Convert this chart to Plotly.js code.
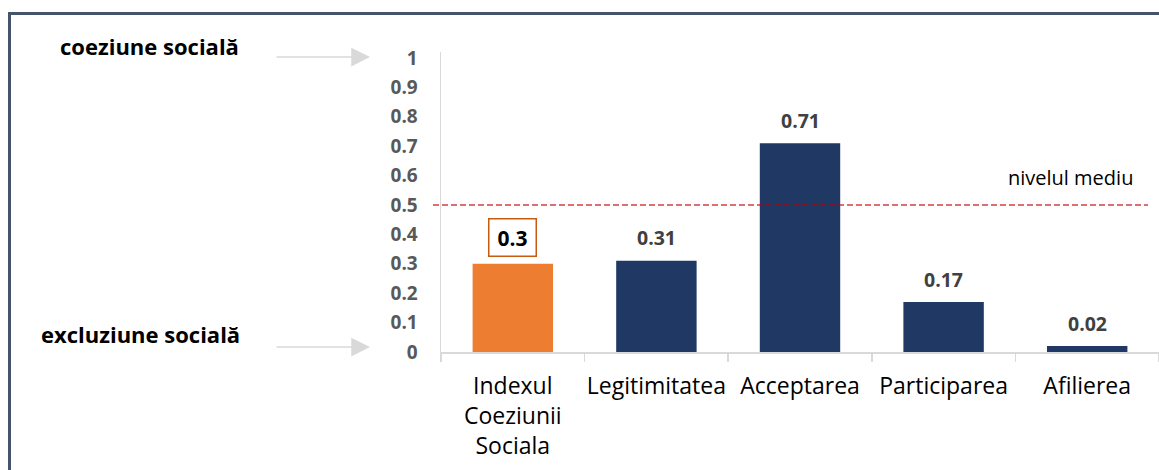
<!DOCTYPE html>
<html>
<head>
<meta charset="utf-8">
<script src="https://cdn.plot.ly/plotly-3.0.1.min.js"></script>
<style>
  html, body { margin: 0; padding: 0; background: #ffffff; }
  #chart { width: 1159px; height: 470px; }
</style>
</head>
<body>
<div id="chart"></div>
<script>
// ---- data ----
const categories = ["Indexul<br>Coeziunii<br>Sociala", "Legitimitatea", "Acceptarea", "Participarea", "Afilierea"];
const values = [0.3, 0.31, 0.71, 0.17, 0.02];
const barColors = ["#ED7D31", "#1F3864", "#1F3864", "#1F3864", "#1F3864"];
const averageLevel = 0.5;
const averageLabel = "nivelul mediu";
const topLabel = "coeziune socială";
const bottomLabel = "excluziune socială";
const highlightIndex = 0;

// ---- layout geometry ----
const W = 1159, H = 470;
const M = { l: 441, r: 0, t: 52, b: 118 };
const plotW = W - M.l - M.r;
const plotH = H - M.t - M.b;
const px2x = px => (px - M.l) / plotW;
const py2y = py => (H - M.b - py) / plotH;

const FONT = "'Open Sans', 'Noto Sans', sans-serif";

const trace = {
  type: "bar",
  x: categories,
  y: values,
  marker: { color: barColors, line: { width: 0 } },
  hoverinfo: "skip"
};

const annotations = [];
values.forEach((v, i) => {
  if (i === highlightIndex) {
    annotations.push({
      x: categories[i], y: v, xref: "x", yref: "y",
      text: "<b>" + v + "</b>", showarrow: false,
      yanchor: "middle", yshift: 26,
      font: { family: FONT, size: 21, color: "#000000" },
      bordercolor: "#C55A11", borderwidth: 1.5, borderpad: 1,
      width: 44, height: 34, bgcolor: "rgba(0,0,0,0)"
    });
  } else {
    annotations.push({
      x: categories[i], y: v, xref: "x", yref: "y",
      text: "<b>" + v + "</b>", showarrow: false,
      yanchor: "middle", yshift: 23,
      font: { family: FONT, size: 19.5, color: "#404040" }
    });
  }
});

// side labels
annotations.push({
  xref: "paper", yref: "paper", x: px2x(149), y: py2y(46),
  text: "<b>" + topLabel + "</b>", showarrow: false,
  xanchor: "center", yanchor: "middle",
  font: { family: FONT, size: 22, color: "#000000" }
});
annotations.push({
  xref: "paper", yref: "paper", x: px2x(140), y: py2y(334),
  text: "<b>" + bottomLabel + "</b>", showarrow: false,
  xanchor: "center", yanchor: "middle",
  font: { family: FONT, size: 22, color: "#000000" }
});
// arrows
[57, 347].forEach(py => {
  annotations.push({
    xref: "paper", yref: "paper", x: px2x(370), y: py2y(py),
    text: "", showarrow: true, ax: -95, ay: 0,
    arrowhead: 2, arrowsize: 2.5, arrowwidth: 1.5, arrowcolor: "#D9D9D9"
  });
});
// average label
annotations.push({
  xref: "paper", yref: "paper", x: px2x(1070), y: py2y(177),
  text: averageLabel, showarrow: false,
  xanchor: "center", yanchor: "middle",
  font: { family: FONT, size: 20, color: "#000000" }
});

const shapes = [
  // average dashed line
  {
    type: "line", xref: "paper", yref: "y",
    x0: px2x(433), x1: px2x(1148), y0: averageLevel, y1: averageLevel,
    line: { color: "rgba(192,0,0,0.75)", width: 1.5, dash: "6px,3px" },
    layer: "above"
  },
  // frame top
  {
    type: "line", xref: "paper", yref: "paper",
    x0: px2x(8), x1: px2x(1165), y0: py2y(13.5), y1: py2y(13.5),
    line: { color: "#44546A", width: 3 }
  },
  // frame left
  {
    type: "line", xref: "paper", yref: "paper",
    x0: px2x(9.5), x1: px2x(9.5), y0: py2y(12), y1: py2y(480),
    line: { color: "#44546A", width: 3 }
  }
];

const layout = {
  width: W, height: H,
  margin: M,
  paper_bgcolor: "#ffffff",
  plot_bgcolor: "#ffffff",
  showlegend: false,
  bargap: 0.44,
  font: { family: FONT, color: "#000000" },
  xaxis: {
    type: "category",
    showline: true, linecolor: "#D9D9D9", linewidth: 1.5,
    ticks: "outside", tickson: "boundaries", ticklen: 8, tickcolor: "#D9D9D9", tickwidth: 1.5,
    tickangle: 0, automargin: false, ticklabelstandoff: 13,
    tickfont: { family: FONT, size: 23, color: "#000000" },
    showgrid: false, zeroline: false, fixedrange: true
  },
  yaxis: {
    range: [0, 1.02],
    dtick: 0.1, tick0: 0,
    showline: true, linecolor: "#D9D9D9", linewidth: 1.5,
    ticks: "", ticklabelstandoff: 18, automargin: false,
    tickfont: { family: FONT, size: 19, color: "#595959", weight: "bold" },
    showgrid: false, zeroline: false, fixedrange: true
  },
  annotations: annotations,
  shapes: shapes
};

Plotly.newPlot("chart", [trace], layout, { displayModeBar: false, staticPlot: true });
</script>
</body>
</html>
